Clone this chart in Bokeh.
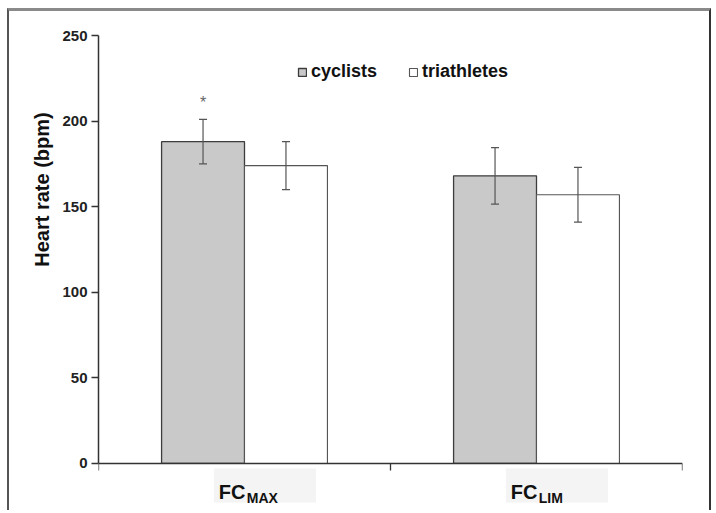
import math
from bokeh.plotting import figure
from bokeh.models import (Range1d, FixedTicker, Label, Whisker,
                          ColumnDataSource, Legend, LegendItem, TeeHead)
from bokeh.core.properties import value
from bokeh.embed import file_html
from bokeh.resources import INLINE

# ---- data ----
categories = ["FC", "FC"]
subscripts = ["MAX", "LIM"]
series = ["cyclists", "triathletes"]
cyclists_mean = [188, 168]
cyclists_sd = [13, 16.5]
triathletes_mean = [174, 157]
triathletes_sd = [14, 16]
significance = ["*", ""]
y_ticks = [0, 50, 100, 150, 200, 250]

FONT = "Liberation Sans"

p = figure(width=704, height=502, output_backend="svg", toolbar_location=None,
           x_range=Range1d(0, len(categories)), y_range=Range1d(-23.4, 250),
           min_border_left=89, min_border_right=31, min_border_top=24, min_border_bottom=10,
           styles={"border-top": "3px solid #8a8a8a", "border-left": "2px solid #555555",
                   "border-right": "2px solid #333333", "margin-left": "7px", "margin-top": "8px"})
p.outline_line_color = None
p.xgrid.visible = False
p.ygrid.visible = False
p.background_fill_color = "white"
p.border_fill_color = "white"

bw = 0.284
x_cyc = [i + 0.5 - bw / 2 for i in range(len(categories))]
x_tri = [i + 0.5 + bw / 2 for i in range(len(categories))]

src_c = ColumnDataSource(dict(x=x_cyc, top=cyclists_mean,
                              upper=[m + s for m, s in zip(cyclists_mean, cyclists_sd)],
                              lower=[m - s for m, s in zip(cyclists_mean, cyclists_sd)]))
src_t = ColumnDataSource(dict(x=x_tri, top=triathletes_mean,
                              upper=[m + s for m, s in zip(triathletes_mean, triathletes_sd)],
                              lower=[m - s for m, s in zip(triathletes_mean, triathletes_sd)]))

r_c = p.vbar(x="x", top="top", width=bw, bottom=0, source=src_c,
             fill_color="#c9c9c9", line_color="#3c3c3c", line_width=1.3)
r_t = p.vbar(x="x", top="top", width=bw, bottom=0, source=src_t,
             fill_color="white", line_color="#555555", line_width=1.1)

for src in (src_c, src_t):
    w = Whisker(base="x", upper="upper", lower="lower", source=src, level="overlay",
                line_color="#555555", line_width=1.2,
                upper_head=TeeHead(size=8, line_color="#555555", line_width=1.2),
                lower_head=TeeHead(size=8, line_color="#555555", line_width=1.2))
    p.add_layout(w)

# significance marks
sig_x = [x for x, s in zip(x_cyc, significance) if s]
sig_y = [m + s + 10 for m, s, sg in zip(cyclists_mean, cyclists_sd, significance) if sg]
sig_t = [s for s in significance if s]
p.text(x=sig_x, y=sig_y, text=sig_t, text_align="center", text_baseline="middle",
       text_font=value(FONT), text_font_size="16px", text_color="#666666")

# category labels (light box, main text, subscript)
cat_x = [i + 0.412 for i in range(len(categories))]
p.quad(left=[i + 0.395 for i in range(len(categories))],
       right=[i + 0.745 for i in range(len(categories))],
       bottom=-22.8, top=-2.9, fill_color="#f4f4f4", line_color=None)
p.text(x=cat_x, y=-16.9, text=categories, text_font=value(FONT), text_font_style="bold",
       text_font_size="20px", text_color="#111111", text_baseline="alphabetic")
p.text(x=cat_x, y=-16.9, x_offset=28, y_offset=5.5, text=subscripts, text_font=value(FONT),
       text_font_style="bold", text_font_size="14px", text_color="#111111",
       text_baseline="alphabetic")

# axes
p.yaxis.ticker = FixedTicker(ticks=y_ticks)
p.yaxis.bounds = (0, 250)
p.yaxis.major_label_text_font = FONT
p.yaxis.major_label_text_font_style = "bold"
p.yaxis.major_label_text_font_size = "15px"
p.yaxis.major_label_text_color = "#222222"
p.yaxis.major_tick_in = 0
p.yaxis.major_tick_out = 7
p.yaxis.minor_tick_line_color = None
p.yaxis.major_label_standoff = 4
p.yaxis.axis_line_color = "#333333"
p.yaxis.axis_line_width = 1.5
p.yaxis.major_tick_line_color = "#333333"
p.yaxis.major_tick_line_width = 1.3

x_ticks = list(range(len(categories) + 1))
p.xaxis.fixed_location = 0
p.xaxis.ticker = FixedTicker(ticks=x_ticks)
p.xaxis.major_label_overrides = {t: "" for t in x_ticks}
p.xaxis.major_label_standoff = 0
p.xaxis.major_tick_in = 0
p.xaxis.major_tick_out = 7
p.xaxis.minor_tick_line_color = None
p.xaxis.axis_line_color = "#333333"
p.xaxis.axis_line_width = 1.5
p.xaxis.major_tick_line_color = "#333333"
p.xaxis.major_tick_line_width = 1.3

# y-axis title
p.add_layout(Label(x=-0.195, y=160, text="Heart rate (bpm)", angle=math.pi / 2,
                   text_align="center", text_baseline="middle", text_font=FONT,
                   text_font_style="bold", text_font_size="20px", text_color="#111111"), "left")

legend = Legend(items=[LegendItem(label=series[0], renderers=[r_c]),
                       LegendItem(label=series[1], renderers=[r_t])],
                location=(199, 421), orientation="horizontal", glyph_width=10, glyph_height=10,
                label_standoff=4, spacing=31, padding=0, margin=0, border_line_alpha=0,
                background_fill_alpha=0, label_text_font=FONT, label_text_font_style="bold",
                label_text_font_size="18px", label_height=20, label_text_color="#111111")
p.add_layout(legend)

open("out.html", "w").write(file_html(p, INLINE))
